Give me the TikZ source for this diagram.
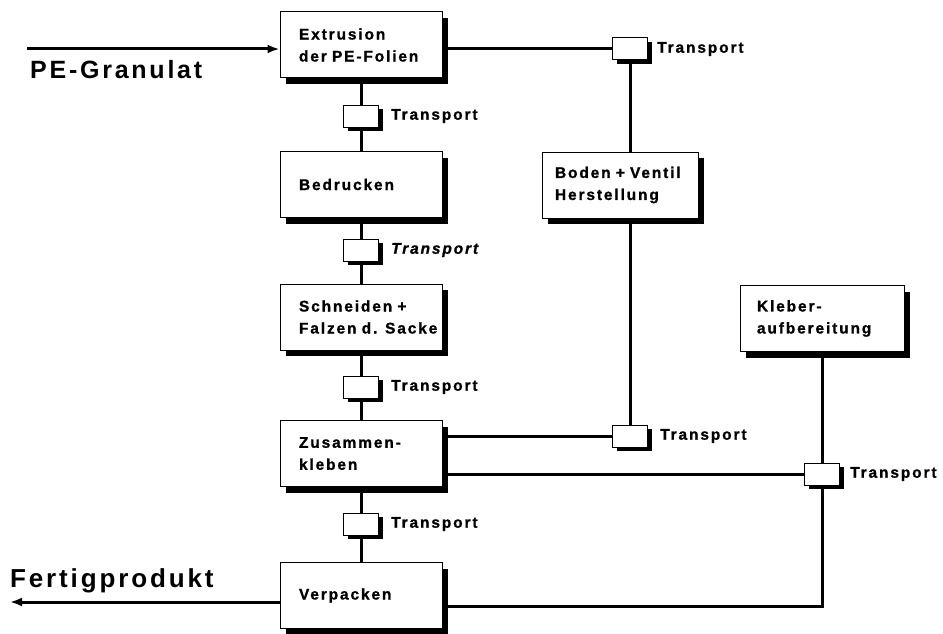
\documentclass[tikz,border=0pt]{standalone}
\usepackage{fontspec}
\setmainfont{Liberation Sans}
\newfontfamily\boxfont[LetterSpace=12,WordSpace=3.5,FakeBold=1]{Liberation Sans Bold}
\newfontfamily\boxslant[LetterSpace=12,WordSpace=3.5,FakeBold=1]{Liberation Sans Bold Italic}
\newfontfamily\bigfont[LetterSpace=11,WordSpace=3]{Liberation Sans Bold}
\usetikzlibrary{arrows.meta,shadows,positioning}

\begin{document}
\begin{tikzpicture}[x=1pt,y=-1pt,
    stepbox/.style={draw,line width=1pt,fill=white,minimum height=66pt,
      inner xsep=19pt,text width=124pt,align=left,
      font=\boxfont\fontsize{15.5}{22}\selectfont,
      drop shadow={shadow xshift=6pt,shadow yshift=-6pt,opacity=1,fill=black}},
    tbox/.style={draw,line width=1pt,fill=white,minimum width=35pt,
      minimum height=22pt,inner sep=0pt,
      drop shadow={shadow xshift=4pt,shadow yshift=-4pt,opacity=1,fill=black}},
    tlabel/.style={inner sep=0pt,font=\boxfont\fontsize{15.5}{16}\selectfont},
    flow/.style={line width=3pt},
    biglabel/.style={inner sep=0pt,anchor=base west,font=\bigfont\fontsize{25}{30}\selectfont}]
    \useasboundingbox (0,0) rectangle (943,634);
    \node[stepbox] (extr) at (361,45) {Extrusion\\der PE-Folien};
    \node[stepbox] (druck) at (361,184.5) {Bedrucken};
    \node[stepbox] (schneid) at (361,317) {Schneiden +\\\mbox{Falzen d. Sacke}};
    \node[stepbox] (zus) at (361,453.5) {Zusammen-\\kleben};
    \node[stepbox] (verp) at (361,595.5) {Verpacken};
    \node[stepbox,text width=130pt,inner xsep=13pt] (boden) at (620,185) {\mbox{Boden + Ventil}\\Herstellung};
    \node[stepbox,text width=130pt,inner xsep=17pt] (kleber) at (822,318.5) {Kleber-\\aufbereitung};
    \node[tbox] (t1) at (361,116) {};
    \node[tbox] (t2) at (361,250) {};
    \node[tbox] (t3) at (361,387) {};
    \node[tbox] (t4) at (361,524) {};
    \node[tbox] (t5) at (630,49) {};
    \node[tbox] (t6) at (630,436) {};
    \node[tbox] (t7) at (822,474) {};
    \node[tlabel,right=12pt of t1] (l1) {Transport};
    \node[tlabel,right=12pt of t2] (l2) {\boxslant Transport};
    \node[tlabel,right=12pt of t3] (l3) {Transport};
    \node[tlabel,right=12pt of t4] (l4) {Transport};
    \node[tlabel,right=9pt of t5] (l5) {Transport};
    \node[tlabel,right=12pt of t6] (l6) {Transport};
    \node[tlabel,right=10pt of t7] (l7) {Transport};
    \draw[flow] (extr) -- (t1) -- (druck) -- (t2) -- (schneid) -- (t3) -- (zus) -- (t4) -- (verp);
    \draw[flow] (extr.east |- t5) -- (t5);
    \draw[flow] (t5) -- (boden.north -| t5);
    \draw[flow] (boden.south -| t6) -- (t6);
    \draw[flow] (zus.east |- t6) -- (t6);
    \draw[flow] (kleber) -- (t7);
    \draw[flow] (zus.east |- t7) -- (t7);
    \coordinate (knick) at (822,606);
    \draw[flow] (t7) -- (knick) -- (verp.east |- knick);
    \coordinate (granin) at (27,49);
    \draw[flow,-{Latex[length=12pt,width=9pt]}] (granin) -- (extr.west |- granin);
    \coordinate (fertout) at (10,602);
    \draw[flow,-{Latex[length=12pt,width=9pt]}] (verp.west |- fertout) -- (fertout);
    \node[biglabel] (gran) at (30,79) {PE-Granulat};
    \node[biglabel,font=\bigfont\fontsize{26}{30}\selectfont] (fert) at (10,587) {Fertigprodukt};
\end{tikzpicture}
\end{document}
